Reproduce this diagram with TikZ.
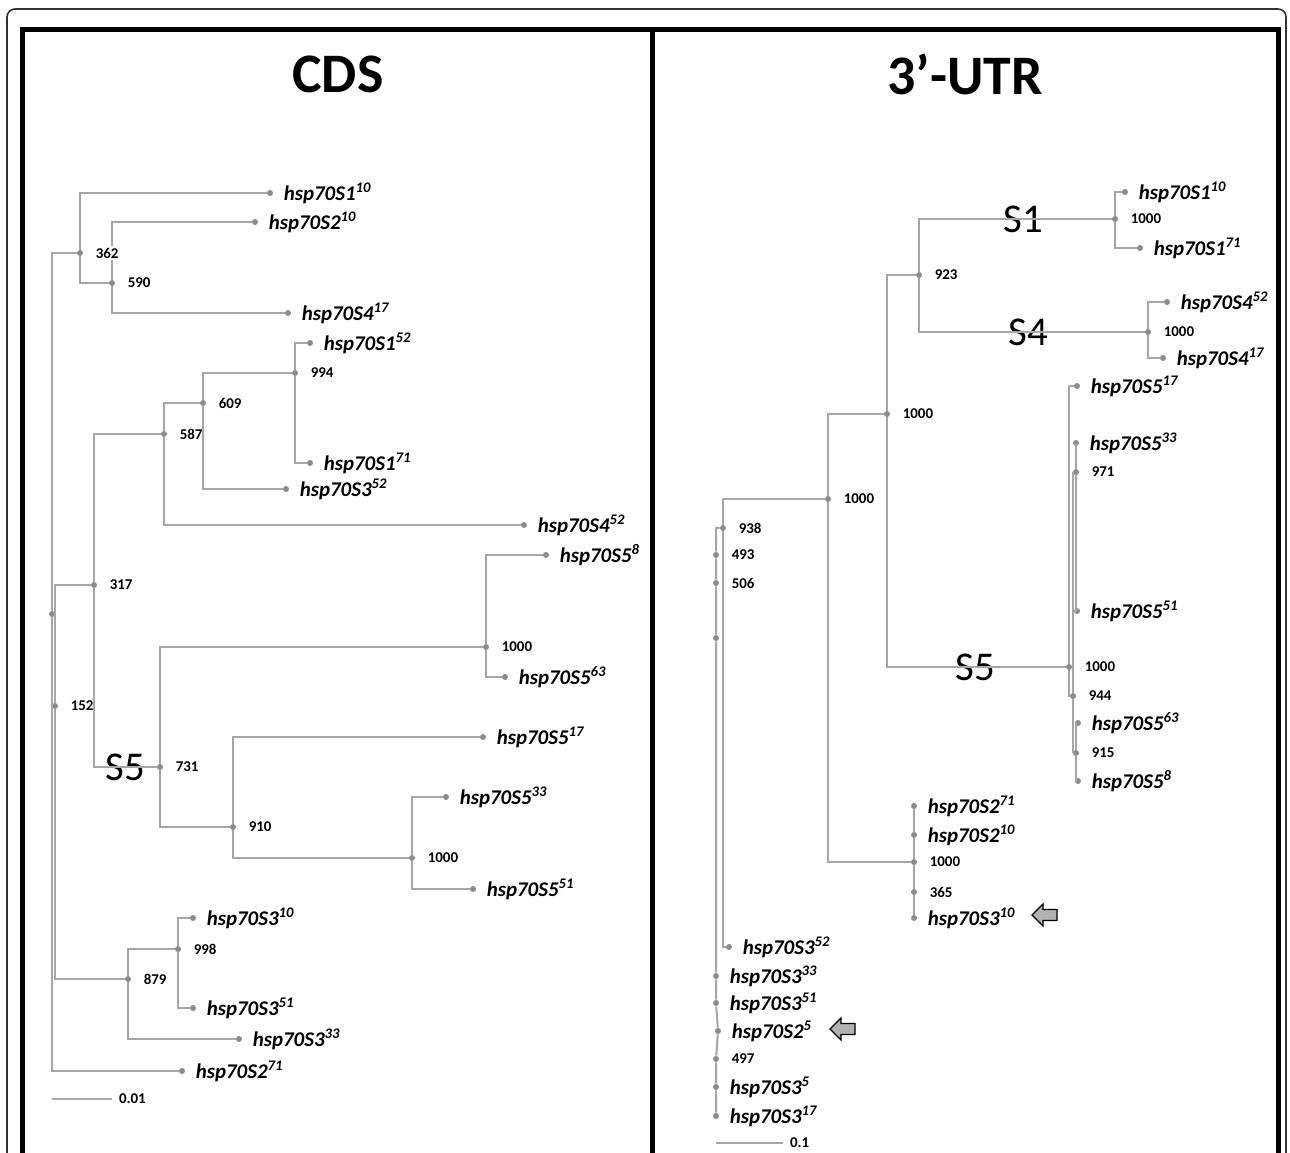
\documentclass[tikz,border=0pt]{standalone}
\usepackage{fontspec}
\setmainfont{Carlito}
\usepackage{tikz}

\definecolor{branchgray}{RGB}{166,166,166}
\definecolor{dotgray}{RGB}{140,140,140}
\definecolor{arrowgray}{RGB}{178,178,178}

\begin{document}
\begin{tikzpicture}[x=0.5bp, y=-0.5bp,
    branch/.style={draw=branchgray, line width=1bp},
    tip/.style={circle, fill=dotgray, inner sep=0pt, minimum size=3bp},
    leaf/.style={font=\fontsize{10.5}{12}\selectfont\bfseries\itshape, inner sep=1bp, xshift=4bp},
    boot/.style={font=\fontsize{7.5}{8}\selectfont\bfseries, inner sep=1bp, xshift=5bp, fill=white},
    clade/.style={font=\fontsize{20.5}{22}\selectfont, inner sep=0pt},
    title/.style={font=\fontsize{28}{30}\selectfont\bfseries},
    pointer/.style={fill=arrowgray, draw=black, line width=0.6bp}]
        \useasboundingbox (0,0) rectangle (1290,1153);
        \fill[white] (0,0) rectangle (1290,1153);
        \draw[line width=0.8bp, draw=black!80, rounded corners=4bp] (7,1153) -- (7,9) -- (1286,9) -- (1286,1153);
        \draw[line width=2.5bp] (22,1153) -- (22,30) -- (1278,30) -- (1278,1153);
        \draw[line width=2.5bp] (652,30) -- (652,1153);
        \node[title] (tcds) at (338,74) {CDS};
        \node[title] (tutr) at (965,74) {3’-UTR};

        \node[tip] (r) at (52,614) {};
        \node[tip] (n362) at (80,253) {};
        \node[tip, label={[boot]right:590}] (n590) at (112,283) {};
        \node[tip, label={[leaf]right:hsp70S1\textsuperscript{10}}] (a110) at (270,193) {};
        \node[tip, label={[leaf]right:hsp70S2\textsuperscript{10}}] (a210) at (255,222) {};
        \node[tip, label={[leaf]right:hsp70S4\textsuperscript{17}}] (a417) at (288,313) {};
        \node[tip, label={[boot]right:587}] (n587) at (164,434) {};
        \node[tip, label={[boot]right:609}] (n609) at (203,403) {};
        \node[tip, label={[boot]right:994}] (n994) at (295,373) {};
        \node[tip, label={[leaf]right:hsp70S1\textsuperscript{52}}] (a152) at (310,343) {};
        \node[tip, label={[leaf]right:hsp70S1\textsuperscript{71}}] (a171) at (310,463) {};
        \node[tip, label={[leaf]right:hsp70S3\textsuperscript{52}}] (a352) at (286,489) {};
        \node[tip, label={[leaf]right:hsp70S4\textsuperscript{52}}] (a452) at (524,525) {};
        \node[tip, label={[boot]right:317}] (n317) at (94,585) {};
        \node[tip, label={[boot]right:152}] (n152) at (55,706) {};
        \node[tip, label={[boot]right:731}] (n731) at (160,767) {};
        \node[clade] (cs5) at (125,767) {S5};
        \node[tip, label={[boot]right:1000}] (na) at (486,647) {};
        \node[tip, label={[leaf]right:hsp70S5\textsuperscript{8}}] (a58) at (546,555) {};
        \node[tip, label={[leaf]right:hsp70S5\textsuperscript{63}}] (a563) at (505,677) {};
        \node[tip, label={[boot]right:910}] (n910) at (233,827) {};
        \node[tip, label={[leaf]right:hsp70S5\textsuperscript{17}}] (a517) at (483,737) {};
        \node[tip, label={[boot]right:1000}] (nb) at (412,858) {};
        \node[tip, label={[leaf]right:hsp70S5\textsuperscript{33}}] (a533) at (446,797) {};
        \node[tip, label={[leaf]right:hsp70S5\textsuperscript{51}}] (a551) at (473,889) {};
        \node[tip, label={[boot]right:879}] (n879) at (128,979) {};
        \node[tip, label={[boot]right:998}] (n998) at (178,949) {};
        \node[tip, label={[leaf]right:hsp70S3\textsuperscript{10}}] (a310) at (193,918) {};
        \node[tip, label={[leaf]right:hsp70S3\textsuperscript{51}}] (a351) at (193,1008) {};
        \node[tip, label={[leaf]right:hsp70S3\textsuperscript{33}}] (a333) at (239,1039) {};
        \node[tip, label={[leaf]right:hsp70S2\textsuperscript{71}}] (a271) at (182,1071) {};

        \draw[branch] (r) |- (n362);
        \draw[branch] (r) |- (n152);
        \draw[branch] (r) |- (a271);
        \draw[branch] (n362) |- (a110);
        \draw[branch] (n362) |- (n590);
        \draw[branch] (n590) |- (a210);
        \draw[branch] (n590) |- (a417);
        \draw[branch] (n152) |- (n317);
        \draw[branch] (n152) |- (n879);
        \draw[branch] (n317) |- (n587);
        \draw[branch] (n317) |- (n731);
        \draw[branch] (n587) |- (n609);
        \draw[branch] (n587) |- (a452);
        \draw[branch] (n609) |- (n994);
        \draw[branch] (n609) |- (a352);
        \draw[branch] (n994) |- (a152);
        \draw[branch] (n994) |- (a171);
        \draw[branch] (n731) |- (na);
        \draw[branch] (n731) |- (n910);
        \draw[branch] (na) |- (a58);
        \draw[branch] (na) |- (a563);
        \draw[branch] (n910) |- (a517);
        \draw[branch] (n910) |- (nb);
        \draw[branch] (nb) |- (a533);
        \draw[branch] (nb) |- (a551);
        \draw[branch] (n879) |- (n998);
        \draw[branch] (n879) |- (a333);
        \draw[branch] (n998) |- (a310);
        \draw[branch] (n998) |- (a351);
        \node[boot, anchor=west] (l362) at (n362.east) {362};
        \coordinate (sa1) at (52,1099);
        \coordinate (sa2) at (112,1099);
        \draw[branch] (sa1) -- (sa2) node[boot, right, xshift=-3bp] (la) {0.01};

        \node[tip, label={[boot]right:938}] (n938) at (723,528) {};
        \node[tip, label={[boot]right:493}] (n493) at (716,555) {};
        \node[tip, label={[boot]right:506}] (n506) at (716,583) {};
        \node[tip] (nx) at (716,638) {};
        \node[tip, label={[leaf]right:hsp70S3\textsuperscript{52}}] (b352) at (729,947) {};
        \node[tip, label={[leaf]right:hsp70S3\textsuperscript{33}}] (b333) at (716,976) {};
        \node[tip, label={[leaf]right:hsp70S3\textsuperscript{51}}] (b351) at (716,1003) {};
        \node[tip, label={[leaf]right:hsp70S2\textsuperscript{5}}] (b25) at (718,1031) {};
        \node[tip, label={[boot]right:497}] (n497) at (716,1059) {};
        \node[tip, label={[leaf]right:hsp70S3\textsuperscript{5}}] (b35) at (716,1087) {};
        \node[tip, label={[leaf]right:hsp70S3\textsuperscript{17}}] (b317) at (716,1116) {};
        \node[tip, label={[boot]right:1000}] (nf) at (828,499) {};
        \node[tip, label={[boot]right:1000}] (ne) at (887,414) {};
        \node[tip, label={[boot]right:923}] (n923) at (919,275) {};
        \node[tip, label={[boot]right:1000}] (ns1) at (1115,219) {};
        \node[tip, label={[boot]right:1000}] (ns4) at (1148,332) {};
        \node[tip, label={[leaf]right:hsp70S1\textsuperscript{10}}] (b110) at (1125,192) {};
        \node[tip, label={[leaf]right:hsp70S1\textsuperscript{71}}] (b171) at (1140,248) {};
        \node[tip, label={[leaf]right:hsp70S4\textsuperscript{52}}] (b452) at (1167,302) {};
        \node[tip, label={[leaf]right:hsp70S4\textsuperscript{17}}] (b417) at (1163,358) {};
        \node[tip, label={[boot]right:1000}] (ns5) at (1069,667) {};
        \node[tip, label={[leaf]right:hsp70S5\textsuperscript{17}}] (b517) at (1077,386) {};
        \node[tip, label={[boot]right:944}] (n944) at (1073,696) {};
        \node[tip, label={[boot]right:971}] (n971) at (1076,472) {};
        \node[tip, label={[leaf]right:hsp70S5\textsuperscript{33}}] (b533) at (1076,443) {};
        \node[tip, label={[leaf]right:hsp70S5\textsuperscript{51}}] (b551) at (1077,611) {};
        \node[tip, label={[boot]right:915}] (n915) at (1076,753) {};
        \node[tip, label={[leaf]right:hsp70S5\textsuperscript{63}}] (b563) at (1078,723) {};
        \node[tip, label={[leaf]right:hsp70S5\textsuperscript{8}}] (b58) at (1078,781) {};
        \node[tip, label={[boot]right:1000}] (ng) at (914,862) {};
        \node[tip, label={[leaf]right:hsp70S2\textsuperscript{71}}] (b271) at (914,806) {};
        \node[tip, label={[leaf]right:hsp70S2\textsuperscript{10}}] (b210) at (914,835) {};
        \node[tip, label={[boot]right:365}] (n365) at (914,892) {};
        \node[tip, label={[leaf]right:hsp70S3\textsuperscript{10}}] (b310) at (914,918) {};
        \node[clade] (cs1) at (1023,219) {S1};
        \node[clade] (cs4) at (1028,332) {S4};
        \node[clade] (cs5r) at (975,667) {S5};

        \draw[branch] (n938) -| (n493) -- (n506) -- (nx) -- (b333) -- (b351) -- (b25) -- (n497) -- (b35) -- (b317);
        \draw[branch] (n938) |- (nf);
        \draw[branch] (n938) |- (b352);
        \draw[branch] (nf) |- (ne);
        \draw[branch] (nf) |- (ng);
        \draw[branch] (ne) |- (n923);
        \draw[branch] (ne) |- (ns5);
        \draw[branch] (n923) |- (ns1);
        \draw[branch] (n923) |- (ns4);
        \draw[branch] (ns1) |- (b110);
        \draw[branch] (ns1) |- (b171);
        \draw[branch] (ns4) |- (b452);
        \draw[branch] (ns4) |- (b417);
        \draw[branch] (ns5) |- (b517);
        \draw[branch] (ns5) |- (n944);
        \draw[branch] (n944) |- (n971);
        \draw[branch] (n944) |- (n915);
        \draw[branch] (n971) |- (b533);
        \draw[branch] (n971) |- (b551);
        \draw[branch] (n915) |- (b563);
        \draw[branch] (n915) |- (b58);
        \draw[branch] (b271) -- (b210) -- (ng) -- (n365) -- (b310);
        \coordinate (sb1) at (716,1143);
        \coordinate (sb2) at (783,1143);
        \draw[branch] (sb1) -- (sb2) node[boot, right, xshift=-3bp] (lb) {0.1};

        \draw[pointer] (1032,915) -- ++(11,-11) -- ++(0,5.5) -- ++(14,0) -- ++(0,11) -- ++(-14,0) -- ++(0,5.5) -- cycle;
        \draw[pointer] (830,1029) -- ++(11,-11) -- ++(0,5.5) -- ++(14,0) -- ++(0,11) -- ++(-14,0) -- ++(0,5.5) -- cycle;
    \end{tikzpicture}
\end{document}
